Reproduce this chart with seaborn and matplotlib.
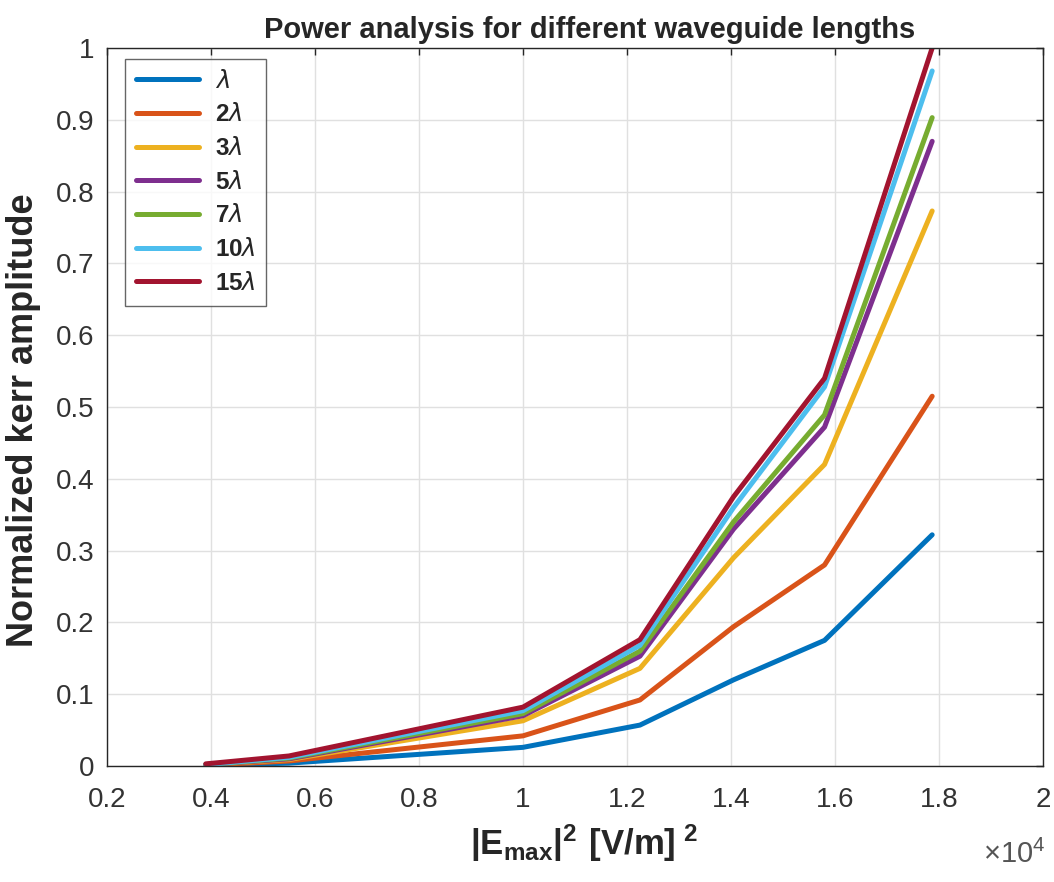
import numpy as np
import pandas as pd
import seaborn as sns
import matplotlib.pyplot as plt
from matplotlib.ticker import FormatStrFormatter, MultipleLocator

# field intensity |E_max|^2 (x 1e4)
e_sq = [0.39, 0.55, 1.0, 1.225, 1.405, 1.58, 1.787]

lengths = [r'$\lambda$', r'2$\lambda$', r'3$\lambda$', r'5$\lambda$',
           r'7$\lambda$', r'10$\lambda$', r'15$\lambda$']

kerr_1 = [0.001, 0.004, 0.026, 0.057, 0.120, 0.175, 0.322]
kerr_2 = [0.001, 0.007, 0.042, 0.092, 0.194, 0.280, 0.515]
kerr_3 = [0.002, 0.009, 0.063, 0.136, 0.290, 0.420, 0.773]
kerr_5 = [0.002, 0.010, 0.070, 0.153, 0.330, 0.472, 0.870]
kerr_7 = [0.002, 0.011, 0.073, 0.160, 0.340, 0.489, 0.903]
kerr_10 = [0.002, 0.012, 0.077, 0.168, 0.360, 0.528, 0.968]
kerr_15 = [0.003, 0.014, 0.082, 0.176, 0.375, 0.540, 1.000]

matlab_colors = ['#0072BD', '#D95319', '#EDB120', '#7E2F8E',
                 '#77AC30', '#4DBEEE', '#A2142F']

series = [kerr_1, kerr_2, kerr_3, kerr_5, kerr_7, kerr_10, kerr_15]
df = pd.concat([pd.DataFrame({'E2': e_sq, 'kerr': s, 'length': lab})
                for s, lab in zip(series, lengths)], ignore_index=True)

sns.set_style('whitegrid')
plt.rcParams['font.family'] = ['Liberation Sans', 'DejaVu Sans']
plt.rcParams['mathtext.fontset'] = 'custom'
plt.rcParams['mathtext.rm'] = 'Liberation Sans'
plt.rcParams['mathtext.bf'] = 'Liberation Sans:bold'
plt.rcParams['mathtext.it'] = 'DejaVu Sans:italic'

fig = plt.figure(figsize=(10.54, 8.82), dpi=100)
ax = fig.add_axes([0.1015, 0.1315, 0.888, 0.8141])

sns.lineplot(data=df, x='E2', y='kerr', hue='length', palette=matlab_colors,
             linewidth=3.6, ax=ax, sort=False, estimator=None)

ax.set_xlim(0.2, 2.0)
ax.set_ylim(0, 1)
ax.xaxis.set_major_locator(MultipleLocator(0.2))
ax.yaxis.set_major_locator(MultipleLocator(0.1))
ax.xaxis.set_major_formatter(FormatStrFormatter('%g'))
ax.yaxis.set_major_formatter(FormatStrFormatter('%g'))

ax.grid(True, color='#e0e0e0', linewidth=1.0)
for sp in ax.spines.values():
    sp.set_visible(True)
    sp.set_color('#262626')
    sp.set_linewidth(1.0)
ax.tick_params(direction='in', length=5, width=1.0, colors='#262626',
               labelsize=20, top=True, right=True, labelcolor='#333333',
               pad=9)
ax.tick_params(axis='x', pad=15)

ax.set_title('Power analysis for different waveguide lengths',
             fontsize=21, fontweight='bold', pad=7, x=0.516)
ax.set_ylabel('Normalized kerr amplitude', fontsize=26, fontweight='bold')
ax.yaxis.set_label_coords(-0.07, 0.482)
ax.set_xlabel(r'$\mathbf{|E_{max}|^2\ [V/m]^{\ 2}}$', fontsize=25)
ax.xaxis.set_label_coords(0.51, -0.079)
ax.xaxis.label.set_va('top')

fig.text(0.992, 0.031, r'$\times\mathregular{10^4}$', fontsize=21,
         color='#555555', ha='right', va='center')

leg = ax.legend(loc='upper left', bbox_to_anchor=(0.019, 0.985),
                frameon=True, fancybox=False, edgecolor='#404040',
                fontsize=17.5, handlelength=2.6, borderpad=0.45,
                labelspacing=0.44, handletextpad=0.65, borderaxespad=0)
leg.get_frame().set_linewidth(1.0)
for t in leg.get_texts():
    t.set_fontweight('bold')

plt.savefig('out.png', dpi=100)
plt.close()
